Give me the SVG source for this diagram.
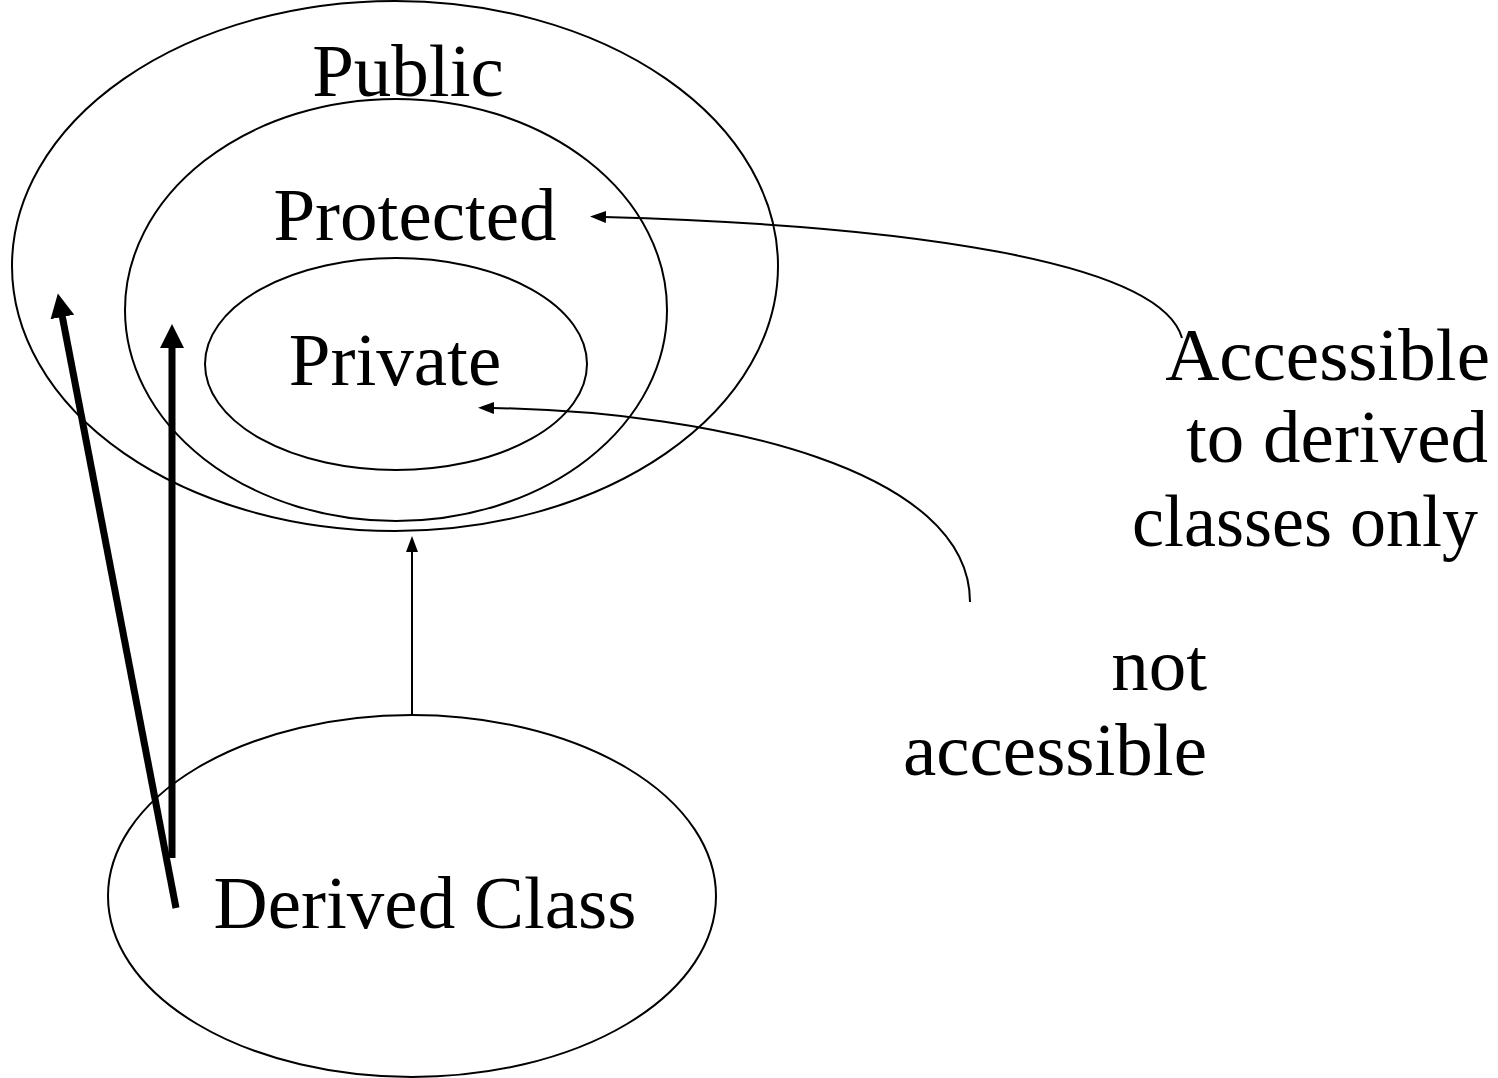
<svg xmlns="http://www.w3.org/2000/svg" width="1498" height="1078" viewBox="0 0 1498 1078">
  <style>
    .ring { fill: none; stroke: #000; stroke-width: 2; }
    .lbl { font-family: "Liberation Serif", "Times New Roman", serif; font-size: 75px; fill: #000; }
    .mid { text-anchor: middle; }
    .end { text-anchor: end; }
    .thin { fill: none; stroke: #000; stroke-width: 2; }
    .thick { fill: none; stroke: #000; stroke-width: 7; }
  </style>
  <defs>
    <marker id="headThin" viewBox="0 0 16 12" refX="2" refY="6" markerWidth="16" markerHeight="12" markerUnits="userSpaceOnUse" orient="auto">
      <path d="M0,0 L16,6 L0,12 Z" fill="#000"/>
    </marker>
    <marker id="headThick" viewBox="0 0 24 24" refX="2" refY="12" markerWidth="24" markerHeight="24" markerUnits="userSpaceOnUse" orient="auto">
      <path d="M0,0 L24,12 L0,24 Z" fill="#000"/>
    </marker>
  </defs>

  <g id="public">
    <ellipse class="ring" cx="395" cy="266" rx="383" ry="265"/>
    <text class="lbl mid" x="408" y="96">Public</text>
  </g>
  <g id="protected">
    <ellipse class="ring" cx="396" cy="310" rx="271" ry="211"/>
    <text class="lbl mid" x="415" y="240">Protected</text>
  </g>
  <g id="private">
    <ellipse class="ring" cx="396" cy="364" rx="191" ry="106"/>
    <text class="lbl mid" x="395" y="385">Private</text>
  </g>
  <g id="derived">
    <ellipse class="ring" cx="412" cy="896" rx="304" ry="181"/>
    <text class="lbl mid" x="425" y="928">Derived Class</text>
  </g>
  <g id="note-protected">
    <text class="lbl end" x="1490" y="380">Accessible</text>
    <text class="lbl end" x="1488" y="462">to derived</text>
    <text class="lbl" x="1132" y="546" textLength="346" lengthAdjust="spacingAndGlyphs">classes only</text>
  </g>
  <g id="note-private">
    <text class="lbl end" x="1207" y="690">not</text>
    <text class="lbl end" x="1207" y="775">accessible</text>
  </g>

  <g id="connectors">
    <path class="thin" d="M1182,338 C1160,260 900,225 604,217" marker-end="url(#headThin)"/>
    <path class="thin" d="M970,602 C970,470 720,412 492,408" marker-end="url(#headThin)"/>
    <path class="thin" d="M412,714 L412,550" marker-end="url(#headThin)"/>
    <path class="thick" d="M176,908 L62,315" marker-end="url(#headThick)"/>
    <path class="thick" d="M172,858 L172,346" marker-end="url(#headThick)"/>
  </g>
</svg>
